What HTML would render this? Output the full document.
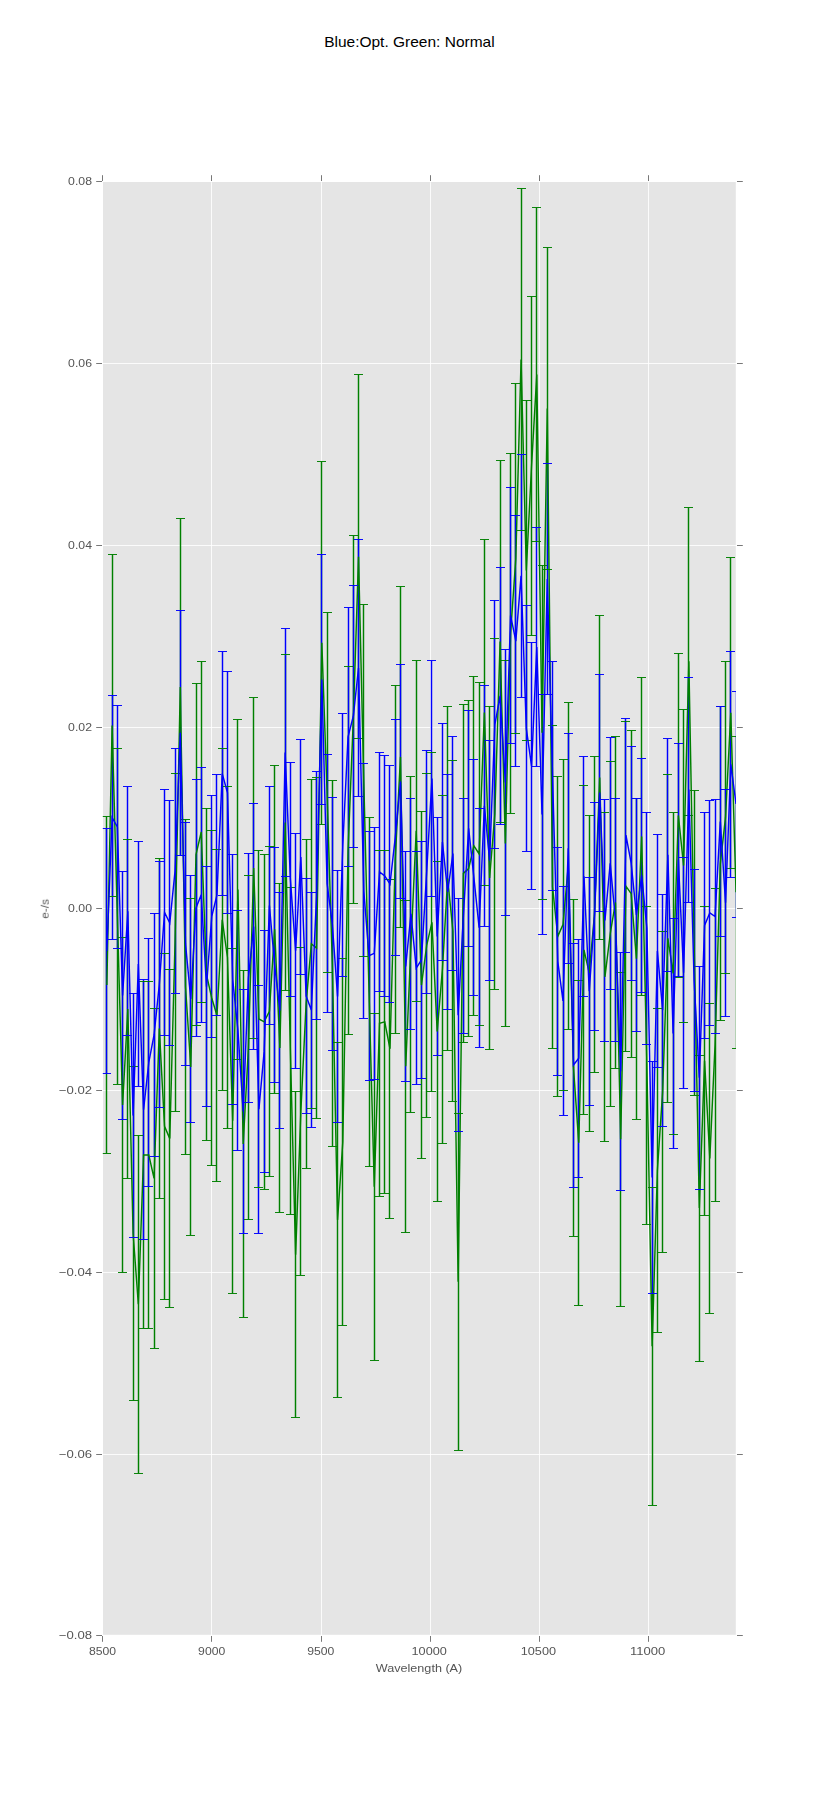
<!DOCTYPE html>
<html><head><meta charset="utf-8"><title>Blue:Opt. Green: Normal</title>
<style>html,body{margin:0;padding:0;background:#fff}body{width:817px;height:1817px;overflow:hidden}svg{display:block}text{font-family:"Liberation Sans",sans-serif}</style></head><body>
<svg width="817" height="1817" viewBox="0 0 817 1817">
<rect x="0" y="0" width="817" height="1817" fill="#ffffff"/>
<defs><clipPath id="ax"><rect x="102.8" y="182" width="633.2" height="1453.2"/></clipPath></defs>
<rect x="102.9" y="182" width="632.9" height="1452.8" fill="#e5e5e5"/>
<path d="M102.5 182.26V1635.7M211.5 182.26V1635.7M321.5 182.26V1635.7M430.5 182.26V1635.7M539.5 182.26V1635.7M648.5 182.26V1635.7M102.75 181.5H735.94M102.75 363.5H735.94M102.75 545.5H735.94M102.75 727.5H735.94M102.75 908.5H735.94M102.75 1090.5H735.94M102.75 1272.5H735.94M102.75 1454.5H735.94M102.75 1635.5H735.94" stroke="#ffffff" stroke-width="0.85" fill="none"/>
<path d="M102.5 1636v5.8M102.5 181v-5.8M211.5 1636v5.8M211.5 181v-5.8M321.5 1636v5.8M321.5 181v-5.8M430.5 1636v5.8M430.5 181v-5.8M539.5 1636v5.8M539.5 181v-5.8M648.5 1636v5.8M648.5 181v-5.8M102 181.5h-5.8M737 181.5h5.8M102 363.5h-5.8M737 363.5h5.8M102 545.5h-5.8M737 545.5h5.8M102 727.5h-5.8M737 727.5h5.8M102 908.5h-5.8M737 908.5h5.8M102 1090.5h-5.8M737 1090.5h5.8M102 1272.5h-5.8M737 1272.5h5.8M102 1454.5h-5.8M737 1454.5h5.8M102 1635.5h-5.8M737 1635.5h5.8" stroke="#555555" stroke-width="0.8" fill="none"/>
<g clip-path="url(#ax)" fill="none">
<path d="M106.5 816.5V1153.5M112.5 554.5V896.5M117.5 748.5V1084.5M122.5 937.5V1272.5M127.5 839.5V1178.5M133.5 1066.5V1400.5M138.5 1135.5V1473.5M143.5 981.5V1328.5M148.5 981.5V1328.5M154.5 1008.5V1348.5M159.5 858.5V1198.5M164.5 953.5V1299.5M169.5 969.5V1307.5M175.5 773.5V1111.5M180.5 518.5V855.5M185.5 819.5V1154.5M190.5 898.5V1235.5M196.5 683.5V1025.5M201.5 661.5V1002.5M206.5 808.5V1140.5M211.5 830.5V1165.5M216.5 849.5V1181.5M222.5 748.5V1090.5M227.5 786.5V1128.5M232.5 948.5V1293.5M237.5 719.5V1059.5M243.5 970.5V1317.5M248.5 875.5V1219.5M253.5 697.5V1038.5M258.5 850.5V1187.5M264.5 854.5V1189.5M269.5 846.5V1176.5M274.5 765.5V1093.5M279.5 883.5V1212.5M285.5 654.5V990.5M290.5 887.5V1214.5M295.5 1091.5V1417.5M300.5 947.5V1275.5M306.5 839.5V1168.5M311.5 779.5V1108.5M316.5 777.5V1118.5M321.5 461.5V824.5M327.5 612.5V972.5M332.5 780.5V1146.5M337.5 1042.5V1397.5M342.5 958.5V1325.5M348.5 666.5V1034.5M353.5 535.5V903.5M358.5 374.5V738.5M363.5 604.5V956.5M369.5 817.5V1166.5M374.5 1013.5V1360.5M379.5 850.5V1196.5M384.5 850.5V1193.5M389.5 879.5V1218.5M395.5 685.5V1033.5M400.5 586.5V927.5M405.5 900.5V1232.5M410.5 776.5V1112.5M416.5 660.5V1001.5M421.5 811.5V1158.5M426.5 773.5V1117.5M431.5 752.5V1091.5M437.5 861.5V1201.5M442.5 795.5V1143.5M447.5 706.5V1050.5M452.5 760.5V1101.5M458.5 1113.5V1450.5M463.5 704.5V1042.5M468.5 700.5V1036.5M473.5 676.5V1015.5M479.5 682.5V1025.5M484.5 539.5V885.5M489.5 706.5V1049.5M494.5 638.5V989.5M500.5 460.5V822.5M505.5 660.5V1026.5M510.5 453.5V813.5M515.5 383.5V733.5M521.5 188.5V530.5M526.5 400.5V740.5M531.5 296.5V635.5M536.5 207.5V541.5M542.5 565.5V899.5M547.5 247.5V569.5M552.5 725.5V1048.5M557.5 776.5V1096.5M563.5 759.5V1090.5M568.5 702.5V1029.5M573.5 899.5V1236.5M578.5 980.5V1305.5M583.5 785.5V1114.5M589.5 815.5V1131.5M594.5 756.5V1072.5M599.5 615.5V939.5M604.5 812.5V1141.5M610.5 761.5V1106.5M615.5 736.5V1068.5M620.5 972.5V1306.5M625.5 721.5V1051.5M631.5 730.5V1057.5M636.5 798.5V1119.5M641.5 677.5V995.5M646.5 906.5V1224.5M652.5 1187.5V1505.5M657.5 1008.5V1332.5M662.5 931.5V1252.5M667.5 774.5V1102.5M673.5 812.5V1134.5M678.5 653.5V977.5M683.5 709.5V1022.5M688.5 507.5V815.5M694.5 790.5V1095.5M699.5 1055.5V1361.5M704.5 906.5V1215.5M709.5 1003.5V1313.5M715.5 888.5V1201.5M720.5 706.5V1020.5M725.5 661.5V973.5M730.5 557.5V868.5M736.5 736.5V1048.5" stroke="#008000" stroke-width="1.45"/>
<path d="M106.5 828.5V1073.5M112.5 695.5V939.5M117.5 705.5V948.5M122.5 871.5V1119.5M127.5 786.5V1035.5M133.5 993.5V1237.5M138.5 841.5V1086.5M143.5 979.5V1239.5M148.5 938.5V1186.5M154.5 913.5V1156.5M159.5 861.5V1107.5M164.5 789.5V1035.5M169.5 800.5V1045.5M175.5 748.5V993.5M180.5 610.5V855.5M185.5 822.5V1065.5M190.5 875.5V1122.5M196.5 779.5V1036.5M201.5 767.5V1022.5M206.5 866.5V1106.5M211.5 795.5V1037.5M216.5 774.5V1015.5M222.5 651.5V895.5M227.5 671.5V913.5M232.5 854.5V1104.5M237.5 910.5V1150.5M243.5 989.5V1233.5M248.5 853.5V1102.5M253.5 803.5V1049.5M258.5 985.5V1233.5M264.5 930.5V1172.5M269.5 786.5V1024.5M274.5 847.5V1082.5M279.5 892.5V1128.5M285.5 628.5V876.5M290.5 762.5V996.5M295.5 833.5V1068.5M300.5 739.5V974.5M306.5 878.5V1113.5M311.5 892.5V1127.5M316.5 771.5V1019.5M321.5 554.5V804.5M327.5 754.5V1012.5M332.5 797.5V1050.5M337.5 870.5V1122.5M342.5 713.5V976.5M348.5 607.5V866.5M353.5 585.5V847.5M358.5 539.5V796.5M363.5 763.5V1018.5M369.5 831.5V1080.5M374.5 827.5V1079.5M379.5 752.5V991.5M384.5 755.5V996.5M389.5 765.5V1002.5M395.5 719.5V955.5M400.5 664.5V898.5M405.5 851.5V1081.5M410.5 798.5V1029.5M416.5 851.5V1084.5M421.5 841.5V1078.5M426.5 750.5V993.5M431.5 660.5V896.5M437.5 817.5V1055.5M442.5 723.5V960.5M447.5 774.5V1009.5M452.5 736.5V970.5M458.5 898.5V1131.5M463.5 798.5V1033.5M468.5 710.5V946.5M473.5 759.5V995.5M479.5 808.5V1047.5M484.5 685.5V926.5M489.5 740.5V980.5M494.5 600.5V848.5M500.5 567.5V824.5M505.5 649.5V915.5M510.5 487.5V743.5M515.5 515.5V766.5M521.5 454.5V697.5M526.5 605.5V851.5M531.5 642.5V889.5M536.5 527.5V766.5M542.5 694.5V934.5M547.5 463.5V694.5M552.5 661.5V890.5M557.5 847.5V1075.5M563.5 886.5V1115.5M568.5 733.5V963.5M573.5 943.5V1187.5M578.5 939.5V1177.5M583.5 756.5V996.5M589.5 877.5V1105.5M594.5 802.5V1030.5M599.5 674.5V911.5M604.5 799.5V1041.5M610.5 737.5V989.5M615.5 798.5V1041.5M620.5 952.5V1190.5M625.5 718.5V952.5M631.5 746.5V980.5M636.5 798.5V1031.5M641.5 758.5V992.5M646.5 812.5V1044.5M652.5 1061.5V1293.5M657.5 834.5V1067.5M662.5 894.5V1126.5M667.5 738.5V971.5M673.5 918.5V1148.5M678.5 743.5V976.5M683.5 857.5V1088.5M688.5 677.5V902.5M694.5 869.5V1091.5M699.5 966.5V1189.5M704.5 812.5V1038.5M709.5 800.5V1025.5M715.5 799.5V1033.5M720.5 706.5V936.5M725.5 789.5V1016.5M730.5 651.5V877.5M736.5 691.5V917.5" stroke="#0000ff" stroke-width="1.45"/>
<path d="M106.87 985L112.11 725.5L117.36 916.6L122.6 1104.9L127.84 1009L133.09 1233.3L138.33 1304.3L143.57 1155L148.81 1155L154.06 1178.3L159.3 1028.6L164.54 1126.3L169.79 1138.6L175.03 942.3L180.27 687.1L185.52 986.7L190.76 1067L196 854.5L201.24 832L206.49 974.6L211.73 998L216.97 1015.5L222.22 919.7L227.46 957.5L232.7 1120.8L237.95 889.4L243.19 1144L248.43 1047.6L253.67 868L258.92 1019L264.16 1021.8L269.4 1011.3L274.65 929.4L279.89 1048L285.13 822.5L290.38 1051L295.62 1254.6L300.86 1111.4L306.1 1003.9L311.35 944L316.59 948L321.83 642.7L327.08 792.5L332.32 963.9L337.56 1219.9L342.81 1141.9L348.05 850.5L353.29 719.3L358.53 556.7L363.78 780.5L369.02 991.9L374.26 1186.8L379.51 1023.3L384.75 1021.9L389.99 1048.8L395.24 859.4L400.48 756.9L405.72 1066.2L410.96 944.5L416.21 830.9L421.45 985.1L426.69 945.4L431.94 922.3L437.18 1031.5L442.42 969.4L447.67 878.5L452.91 931L458.15 1281.8L463.39 873.4L468.64 868.5L473.88 845.8L479.12 854L484.37 712.5L489.61 878L494.85 814L500.1 641.5L505.34 843.4L510.58 633.2L515.82 558.5L521.07 359.5L526.31 570.4L531.55 466L536.8 374.5L542.04 732.7L547.28 408.5L552.53 886.8L557.77 936.4L563.01 924.6L568.25 866L573.5 1067.9L578.74 1142.7L583.98 949.9L589.23 973.2L594.47 914.3L599.71 777.6L604.96 976.8L610.2 934L615.44 902.4L620.68 1139.3L625.93 886.2L631.17 893.7L636.41 958.7L641.66 836.4L646.9 1065.2L652.14 1346.2L657.38 1170.4L662.63 1091.8L667.87 938.4L673.11 973.4L678.36 815.4L683.6 865.6L688.84 661.2L694.09 943.1L699.33 1208L704.57 1060.8L709.82 1158.4L715.06 1044.8L720.3 863.9L725.54 817.2L730.79 712.8L736.03 892.3" stroke="#008000" stroke-width="1.45" stroke-linejoin="miter" stroke-miterlimit="4"/>
<path d="M102 816.5h9.0M102 1153.5h9.0M108 554.5h9.0M108 896.5h9.0M113 748.5h9.0M113 1084.5h9.0M118 937.5h9.0M118 1272.5h9.0M123 839.5h9.0M123 1178.5h9.0M129 1066.5h9.0M129 1400.5h9.0M134 1135.5h9.0M134 1473.5h9.0M139 981.5h9.0M139 1328.5h9.0M144 981.5h9.0M144 1328.5h9.0M150 1008.5h9.0M150 1348.5h9.0M155 858.5h9.0M155 1198.5h9.0M160 953.5h9.0M160 1299.5h9.0M165 969.5h9.0M165 1307.5h9.0M171 773.5h9.0M171 1111.5h9.0M176 518.5h9.0M176 855.5h9.0M181 819.5h9.0M181 1154.5h9.0M186 898.5h9.0M186 1235.5h9.0M192 683.5h9.0M192 1025.5h9.0M197 661.5h9.0M197 1002.5h9.0M202 808.5h9.0M202 1140.5h9.0M207 830.5h9.0M207 1165.5h9.0M212 849.5h9.0M212 1181.5h9.0M218 748.5h9.0M218 1090.5h9.0M223 786.5h9.0M223 1128.5h9.0M228 948.5h9.0M228 1293.5h9.0M233 719.5h9.0M233 1059.5h9.0M239 970.5h9.0M239 1317.5h9.0M244 875.5h9.0M244 1219.5h9.0M249 697.5h9.0M249 1038.5h9.0M254 850.5h9.0M254 1187.5h9.0M260 854.5h9.0M260 1189.5h9.0M265 846.5h9.0M265 1176.5h9.0M270 765.5h9.0M270 1093.5h9.0M275 883.5h9.0M275 1212.5h9.0M281 654.5h9.0M281 990.5h9.0M286 887.5h9.0M286 1214.5h9.0M291 1091.5h9.0M291 1417.5h9.0M296 947.5h9.0M296 1275.5h9.0M302 839.5h9.0M302 1168.5h9.0M307 779.5h9.0M307 1108.5h9.0M312 777.5h9.0M312 1118.5h9.0M317 461.5h9.0M317 824.5h9.0M323 612.5h9.0M323 972.5h9.0M328 780.5h9.0M328 1146.5h9.0M333 1042.5h9.0M333 1397.5h9.0M338 958.5h9.0M338 1325.5h9.0M344 666.5h9.0M344 1034.5h9.0M349 535.5h9.0M349 903.5h9.0M354 374.5h9.0M354 738.5h9.0M359 604.5h9.0M359 956.5h9.0M365 817.5h9.0M365 1166.5h9.0M370 1013.5h9.0M370 1360.5h9.0M375 850.5h9.0M375 1196.5h9.0M380 850.5h9.0M380 1193.5h9.0M385 879.5h9.0M385 1218.5h9.0M391 685.5h9.0M391 1033.5h9.0M396 586.5h9.0M396 927.5h9.0M401 900.5h9.0M401 1232.5h9.0M406 776.5h9.0M406 1112.5h9.0M412 660.5h9.0M412 1001.5h9.0M417 811.5h9.0M417 1158.5h9.0M422 773.5h9.0M422 1117.5h9.0M427 752.5h9.0M427 1091.5h9.0M433 861.5h9.0M433 1201.5h9.0M438 795.5h9.0M438 1143.5h9.0M443 706.5h9.0M443 1050.5h9.0M448 760.5h9.0M448 1101.5h9.0M454 1113.5h9.0M454 1450.5h9.0M459 704.5h9.0M459 1042.5h9.0M464 700.5h9.0M464 1036.5h9.0M469 676.5h9.0M469 1015.5h9.0M475 682.5h9.0M475 1025.5h9.0M480 539.5h9.0M480 885.5h9.0M485 706.5h9.0M485 1049.5h9.0M490 638.5h9.0M490 989.5h9.0M496 460.5h9.0M496 822.5h9.0M501 660.5h9.0M501 1026.5h9.0M506 453.5h9.0M506 813.5h9.0M511 383.5h9.0M511 733.5h9.0M517 188.5h9.0M517 530.5h9.0M522 400.5h9.0M522 740.5h9.0M527 296.5h9.0M527 635.5h9.0M532 207.5h9.0M532 541.5h9.0M538 565.5h9.0M538 899.5h9.0M543 247.5h9.0M543 569.5h9.0M548 725.5h9.0M548 1048.5h9.0M553 776.5h9.0M553 1096.5h9.0M559 759.5h9.0M559 1090.5h9.0M564 702.5h9.0M564 1029.5h9.0M569 899.5h9.0M569 1236.5h9.0M574 980.5h9.0M574 1305.5h9.0M579 785.5h9.0M579 1114.5h9.0M585 815.5h9.0M585 1131.5h9.0M590 756.5h9.0M590 1072.5h9.0M595 615.5h9.0M595 939.5h9.0M600 812.5h9.0M600 1141.5h9.0M606 761.5h9.0M606 1106.5h9.0M611 736.5h9.0M611 1068.5h9.0M616 972.5h9.0M616 1306.5h9.0M621 721.5h9.0M621 1051.5h9.0M627 730.5h9.0M627 1057.5h9.0M632 798.5h9.0M632 1119.5h9.0M637 677.5h9.0M637 995.5h9.0M642 906.5h9.0M642 1224.5h9.0M648 1187.5h9.0M648 1505.5h9.0M653 1008.5h9.0M653 1332.5h9.0M658 931.5h9.0M658 1252.5h9.0M663 774.5h9.0M663 1102.5h9.0M669 812.5h9.0M669 1134.5h9.0M674 653.5h9.0M674 977.5h9.0M679 709.5h9.0M679 1022.5h9.0M684 507.5h9.0M684 815.5h9.0M690 790.5h9.0M690 1095.5h9.0M695 1055.5h9.0M695 1361.5h9.0M700 906.5h9.0M700 1215.5h9.0M705 1003.5h9.0M705 1313.5h9.0M711 888.5h9.0M711 1201.5h9.0M716 706.5h9.0M716 1020.5h9.0M721 661.5h9.0M721 973.5h9.0M726 557.5h9.0M726 868.5h9.0M732 736.5h9.0M732 1048.5h9.0" stroke="#008000" stroke-width="0.95"/>
<path d="M106.87 950.9L112.11 817.5L117.36 826.9L122.6 995.5L127.84 911.3L133.09 1115.6L138.33 963.9L143.57 1109.7L148.81 1062.4L154.06 1035L159.3 984.5L164.54 912.5L169.79 923L175.03 871.1L180.27 732.8L185.52 943.9L190.76 999L196 907.9L201.24 894.8L206.49 986.7L211.73 916.6L216.97 894.8L222.22 773.6L227.46 792.7L232.7 979.5L237.95 1030.5L243.19 1111.4L248.43 978L253.67 926.4L258.92 1109.3L264.16 1051.4L269.4 905.5L274.65 965L279.89 1010.4L285.13 752.5L290.38 879.2L295.62 950.8L300.86 857L306.1 996L311.35 1009.9L316.59 895.6L321.83 679.5L327.08 883.5L332.32 924L337.56 996.4L342.81 845L348.05 736.9L353.29 716.3L358.53 668L363.78 890.8L369.02 955.6L374.26 953.3L379.51 872L384.75 875.9L389.99 884L395.24 837.7L400.48 781.5L405.72 966.4L410.96 913.8L416.21 968.1L421.45 959.9L426.69 871.8L431.94 778.5L437.18 936.4L442.42 842L447.67 891.9L452.91 853.5L458.15 1015.2L463.39 915.6L468.64 828.3L473.88 877.5L479.12 927.7L484.37 805.8L489.61 860.4L494.85 724.6L500.1 696L505.34 782.4L510.58 615.4L515.82 641.1L521.07 575.9L526.31 728.7L531.55 765.9L536.8 647L542.04 814.4L547.28 579L552.53 775.9L557.77 961.3L563.01 1001L568.25 848.2L573.5 1065L578.74 1058.2L583.98 876.3L589.23 991.3L594.47 916.4L599.71 792.6L604.96 920.4L610.2 863.3L615.44 919.9L620.68 1071.2L625.93 835.2L631.17 863.2L636.41 915L641.66 875.4L646.9 928.4L652.14 1177.4L657.38 950.9L662.63 1010.3L667.87 854.8L673.11 1033.4L678.36 859.8L683.6 972.8L688.84 789.6L694.09 980.1L699.33 1077.7L704.57 925.4L709.82 912.8L715.06 916.5L720.3 821.5L725.54 902.7L730.79 764.3L736.03 804" stroke="#0000ff" stroke-width="1.45" stroke-linejoin="miter" stroke-miterlimit="4"/>
<path d="M102 828.5h9.0M102 1073.5h9.0M108 695.5h9.0M108 939.5h9.0M113 705.5h9.0M113 948.5h9.0M118 871.5h9.0M118 1119.5h9.0M123 786.5h9.0M123 1035.5h9.0M129 993.5h9.0M129 1237.5h9.0M134 841.5h9.0M134 1086.5h9.0M139 979.5h9.0M139 1239.5h9.0M144 938.5h9.0M144 1186.5h9.0M150 913.5h9.0M150 1156.5h9.0M155 861.5h9.0M155 1107.5h9.0M160 789.5h9.0M160 1035.5h9.0M165 800.5h9.0M165 1045.5h9.0M171 748.5h9.0M171 993.5h9.0M176 610.5h9.0M176 855.5h9.0M181 822.5h9.0M181 1065.5h9.0M186 875.5h9.0M186 1122.5h9.0M192 779.5h9.0M192 1036.5h9.0M197 767.5h9.0M197 1022.5h9.0M202 866.5h9.0M202 1106.5h9.0M207 795.5h9.0M207 1037.5h9.0M212 774.5h9.0M212 1015.5h9.0M218 651.5h9.0M218 895.5h9.0M223 671.5h9.0M223 913.5h9.0M228 854.5h9.0M228 1104.5h9.0M233 910.5h9.0M233 1150.5h9.0M239 989.5h9.0M239 1233.5h9.0M244 853.5h9.0M244 1102.5h9.0M249 803.5h9.0M249 1049.5h9.0M254 985.5h9.0M254 1233.5h9.0M260 930.5h9.0M260 1172.5h9.0M265 786.5h9.0M265 1024.5h9.0M270 847.5h9.0M270 1082.5h9.0M275 892.5h9.0M275 1128.5h9.0M281 628.5h9.0M281 876.5h9.0M286 762.5h9.0M286 996.5h9.0M291 833.5h9.0M291 1068.5h9.0M296 739.5h9.0M296 974.5h9.0M302 878.5h9.0M302 1113.5h9.0M307 892.5h9.0M307 1127.5h9.0M312 771.5h9.0M312 1019.5h9.0M317 554.5h9.0M317 804.5h9.0M323 754.5h9.0M323 1012.5h9.0M328 797.5h9.0M328 1050.5h9.0M333 870.5h9.0M333 1122.5h9.0M338 713.5h9.0M338 976.5h9.0M344 607.5h9.0M344 866.5h9.0M349 585.5h9.0M349 847.5h9.0M354 539.5h9.0M354 796.5h9.0M359 763.5h9.0M359 1018.5h9.0M365 831.5h9.0M365 1080.5h9.0M370 827.5h9.0M370 1079.5h9.0M375 752.5h9.0M375 991.5h9.0M380 755.5h9.0M380 996.5h9.0M385 765.5h9.0M385 1002.5h9.0M391 719.5h9.0M391 955.5h9.0M396 664.5h9.0M396 898.5h9.0M401 851.5h9.0M401 1081.5h9.0M406 798.5h9.0M406 1029.5h9.0M412 851.5h9.0M412 1084.5h9.0M417 841.5h9.0M417 1078.5h9.0M422 750.5h9.0M422 993.5h9.0M427 660.5h9.0M427 896.5h9.0M433 817.5h9.0M433 1055.5h9.0M438 723.5h9.0M438 960.5h9.0M443 774.5h9.0M443 1009.5h9.0M448 736.5h9.0M448 970.5h9.0M454 898.5h9.0M454 1131.5h9.0M459 798.5h9.0M459 1033.5h9.0M464 710.5h9.0M464 946.5h9.0M469 759.5h9.0M469 995.5h9.0M475 808.5h9.0M475 1047.5h9.0M480 685.5h9.0M480 926.5h9.0M485 740.5h9.0M485 980.5h9.0M490 600.5h9.0M490 848.5h9.0M496 567.5h9.0M496 824.5h9.0M501 649.5h9.0M501 915.5h9.0M506 487.5h9.0M506 743.5h9.0M511 515.5h9.0M511 766.5h9.0M517 454.5h9.0M517 697.5h9.0M522 605.5h9.0M522 851.5h9.0M527 642.5h9.0M527 889.5h9.0M532 527.5h9.0M532 766.5h9.0M538 694.5h9.0M538 934.5h9.0M543 463.5h9.0M543 694.5h9.0M548 661.5h9.0M548 890.5h9.0M553 847.5h9.0M553 1075.5h9.0M559 886.5h9.0M559 1115.5h9.0M564 733.5h9.0M564 963.5h9.0M569 943.5h9.0M569 1187.5h9.0M574 939.5h9.0M574 1177.5h9.0M579 756.5h9.0M579 996.5h9.0M585 877.5h9.0M585 1105.5h9.0M590 802.5h9.0M590 1030.5h9.0M595 674.5h9.0M595 911.5h9.0M600 799.5h9.0M600 1041.5h9.0M606 737.5h9.0M606 989.5h9.0M611 798.5h9.0M611 1041.5h9.0M616 952.5h9.0M616 1190.5h9.0M621 718.5h9.0M621 952.5h9.0M627 746.5h9.0M627 980.5h9.0M632 798.5h9.0M632 1031.5h9.0M637 758.5h9.0M637 992.5h9.0M642 812.5h9.0M642 1044.5h9.0M648 1061.5h9.0M648 1293.5h9.0M653 834.5h9.0M653 1067.5h9.0M658 894.5h9.0M658 1126.5h9.0M663 738.5h9.0M663 971.5h9.0M669 918.5h9.0M669 1148.5h9.0M674 743.5h9.0M674 976.5h9.0M679 857.5h9.0M679 1088.5h9.0M684 677.5h9.0M684 902.5h9.0M690 869.5h9.0M690 1091.5h9.0M695 966.5h9.0M695 1189.5h9.0M700 812.5h9.0M700 1038.5h9.0M705 800.5h9.0M705 1025.5h9.0M711 799.5h9.0M711 1033.5h9.0M716 706.5h9.0M716 936.5h9.0M721 789.5h9.0M721 1016.5h9.0M726 651.5h9.0M726 877.5h9.0M732 691.5h9.0M732 917.5h9.0" stroke="#0000ff" stroke-width="0.95"/>
</g>
<g fill="#555555" font-size="11.3px" opacity="0.999">
<text x="102.5" y="1655" text-anchor="middle" textLength="27.1" lengthAdjust="spacingAndGlyphs">8500</text>
<text x="211.67" y="1655" text-anchor="middle" textLength="27.1" lengthAdjust="spacingAndGlyphs">9000</text>
<text x="320.84" y="1655" text-anchor="middle" textLength="27.1" lengthAdjust="spacingAndGlyphs">9500</text>
<text x="429.21" y="1655" text-anchor="middle" textLength="35.3" lengthAdjust="spacingAndGlyphs">10000</text>
<text x="538.38" y="1655" text-anchor="middle" textLength="35.3" lengthAdjust="spacingAndGlyphs">10500</text>
<text x="647.55" y="1655" text-anchor="middle" textLength="35.3" lengthAdjust="spacingAndGlyphs">11000</text>
<text x="92" y="185.1" text-anchor="end" textLength="23.9" lengthAdjust="spacingAndGlyphs">0.08</text>
<text x="92" y="367.1" text-anchor="end" textLength="23.9" lengthAdjust="spacingAndGlyphs">0.06</text>
<text x="92" y="549.1" text-anchor="end" textLength="23.9" lengthAdjust="spacingAndGlyphs">0.04</text>
<text x="92" y="731.1" text-anchor="end" textLength="23.9" lengthAdjust="spacingAndGlyphs">0.02</text>
<text x="92" y="912.1" text-anchor="end" textLength="23.9" lengthAdjust="spacingAndGlyphs">0.00</text>
<text x="92" y="1094.1" text-anchor="end" textLength="33.2" lengthAdjust="spacingAndGlyphs">−0.02</text>
<text x="92" y="1276.1" text-anchor="end" textLength="33.2" lengthAdjust="spacingAndGlyphs">−0.04</text>
<text x="92" y="1458.1" text-anchor="end" textLength="33.2" lengthAdjust="spacingAndGlyphs">−0.06</text>
<text x="92" y="1639.1" text-anchor="end" textLength="33.2" lengthAdjust="spacingAndGlyphs">−0.08</text>
<text x="419" y="1672" text-anchor="middle" textLength="86.4" lengthAdjust="spacingAndGlyphs">Wavelength (A)</text>
<text transform="translate(48.7 908.9) rotate(-90)" font-size="11px" text-anchor="middle" textLength="19.6" lengthAdjust="spacingAndGlyphs">e-/s</text>
</g>
<text x="409.4" y="46.9" fill="#000000" opacity="0.999" font-size="14.2px" text-anchor="middle" textLength="170.5" lengthAdjust="spacingAndGlyphs">Blue:Opt. Green: Normal</text>
</svg></body></html>
